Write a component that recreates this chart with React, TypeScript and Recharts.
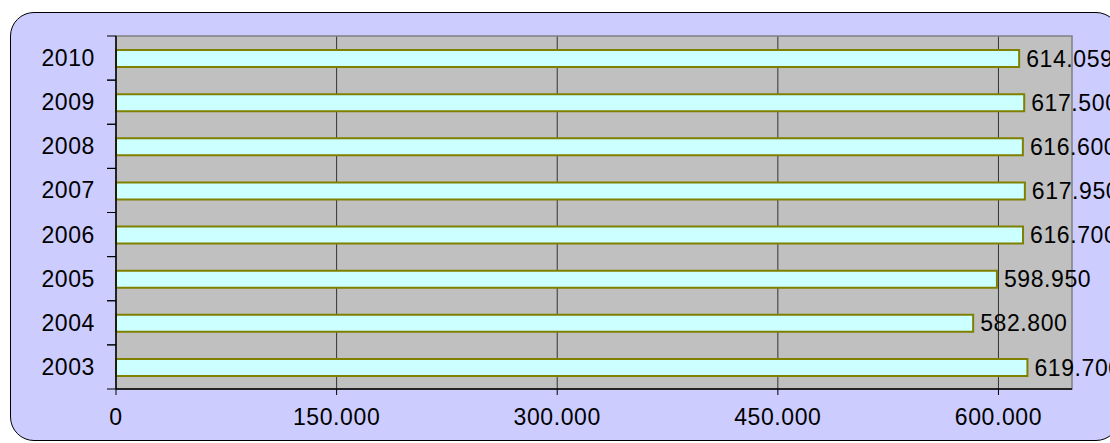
import { Bar, BarChart, CartesianGrid, LabelList, ReferenceArea, XAxis, YAxis } from "recharts"

const years = ["2003", "2004", "2005", "2006", "2007", "2008", "2009", "2010"]
const values = [619700, 582800, 598950, 616700, 617950, 616600, 617500, 614059]
const xTicks = [0, 150000, 300000, 450000, 600000]
const xMax = 650000

const data = years.map((year, i) => ({ year, value: values[i] }))

const FONT = "'Liberation Sans', Arial, sans-serif"

function formatThousands(value: number): string {
  if (value === 0) {
    return "0"
  }
  return String(Math.round(value)).replace(/\B(?=(\d{3})+(?!\d))/g, ".")
}

// category labels sit in the band centre, tick marks on the band edges
function YearTick(props: any) {
  const { x, y, payload } = props
  const half = payload?.offset ?? 22
  const axisX = x + 8
  return (
    <g>
      <line x1={axisX} x2={axisX - 9} y1={y - half} y2={y - half} stroke="#000" />
      <line x1={axisX} x2={axisX - 9} y1={y + half} y2={y + half} stroke="#000" />
      <text
        x={axisX - 21}
        y={y}
        dy={8}
        textAnchor="end"
        fill="#000"
        fontSize={23}
        letterSpacing={0.6}
        fontFamily={FONT}
      >
        {payload.value}
      </text>
    </g>
  )
}

export default function App() {
  return (
    <div style={{ position: "fixed", left: 0, top: 0, width: 1110, height: 443, overflow: "hidden", background: "#fff" }}>
      <style>{".recharts-surface { overflow: visible; }"}</style>
      <div
        style={{
          position: "absolute",
          left: 10,
          top: 12,
          width: 1108,
          height: 427,
          border: "1px solid #000",
          borderRadius: 24,
          background: "#CCCCFF",
        }}
      />
      <div style={{ position: "absolute", left: 0, top: 0 }}>
        <BarChart
          width={1140}
          height={443}
          data={data}
          layout="vertical"
          margin={{ top: 36, right: 68, left: 10, bottom: 14 }}
        >
          <CartesianGrid horizontal={false} fill="#C0C0C0" stroke="#333" verticalValues={xTicks.slice(1)} />
          <ReferenceArea x1={0} x2={xMax} fill="none" stroke="#808080" strokeWidth={1.5} />
          <XAxis
            type="number"
            dataKey="value"
            domain={[0, xMax]}
            ticks={xTicks}
            tickFormatter={formatThousands}
            axisLine={{ stroke: "#000", strokeWidth: 1.5 }}
            tickLine={{ stroke: "#000" }}
            tickSize={6}
            height={40}
            tick={{ fill: "#000", fontSize: 23, fontFamily: FONT, letterSpacing: 0.6, dy: 12 }}
            interval={0}
          />
          <YAxis
            type="category"
            dataKey="year"
            reversed
            width={106}
            axisLine={{ stroke: "#000", strokeWidth: 1.5 }}
            tickLine={false}
            tick={<YearTick />}
            interval={0}
          />
          <Bar dataKey="value" fill="#CCFFFF" stroke="#808000" strokeWidth={2} barSize={17} isAnimationActive={false}>
            <LabelList
              dataKey="value"
              position="right"
              offset={7}
              formatter={(v: any) => formatThousands(Number(v))}
              fill="#000"
              fontSize={23}
              fontFamily={FONT}
              letterSpacing={0.6}
            />
          </Bar>
        </BarChart>
      </div>
    </div>
  )
}
